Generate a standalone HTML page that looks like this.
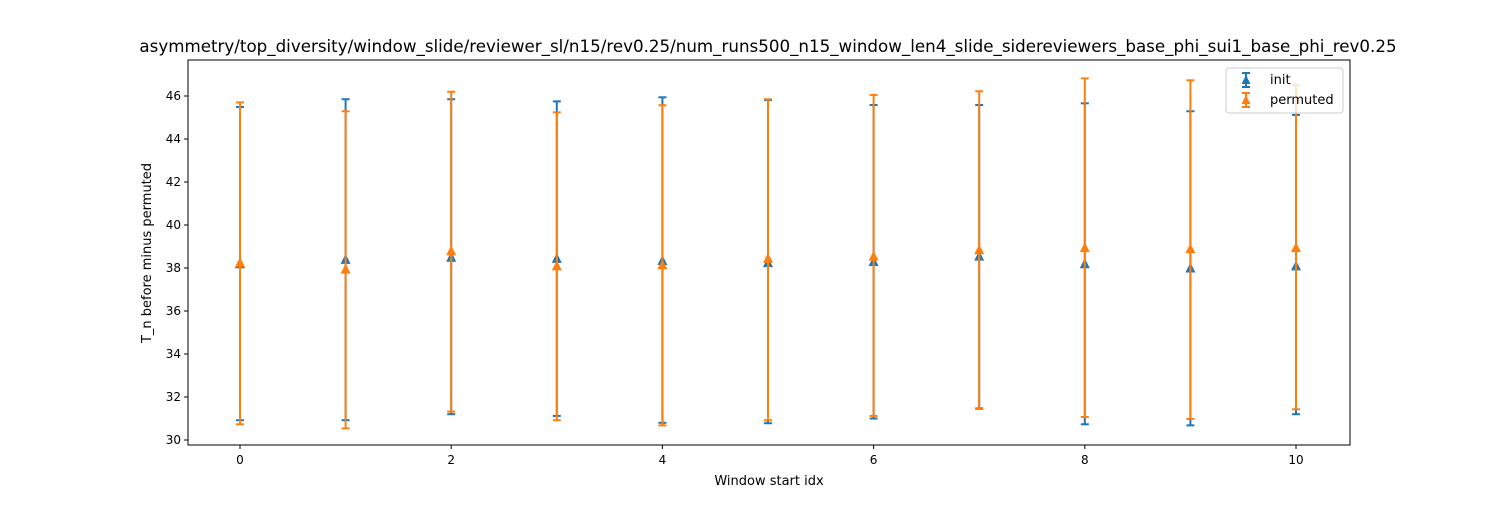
<!DOCTYPE html>
<html><head><meta charset="utf-8"><style>body{margin:0;background:#fff}svg text{font-family:"DejaVu Sans","Liberation Sans",sans-serif}</style></head>
<body>
<svg id="chart" width="1500" height="500" xmlns="http://www.w3.org/2000/svg"></svg>
<script>
const xs=[0,1,2,3,4,5,6,7,8,9,10];
const initMean=[38.2,38.4,38.5,38.45,38.35,38.25,38.3,38.55,38.2,38.0,38.1];
const initLow=[30.92,30.92,31.2,31.12,30.8,30.78,31.0,31.47,30.73,30.68,31.2];
const initHigh=[45.49,45.85,45.85,45.75,45.94,45.81,45.58,45.58,45.66,45.29,45.12];
const permMean=[38.25,37.95,38.8,38.1,38.15,38.45,38.55,38.85,38.95,38.9,38.95];
const permLow=[30.73,30.54,31.32,30.92,30.68,30.92,31.12,31.44,31.07,30.98,31.43];
const permHigh=[45.7,45.29,46.2,45.24,45.57,45.85,46.05,46.22,46.82,46.73,46.5];
const xTicks=[0,2,4,6,8,10];
const yTicks=[30,32,34,36,38,40,42,44,46];
const svg=document.getElementById('chart');
const NS='http://www.w3.org/2000/svg';
const L=188,R=1350,T=60,B=445;
const X=v=>240+v*105.6;
const Y=v=>440-(v-30)*21.5;
function mk(tag,attrs,parent){const e=document.createElementNS(NS,tag);for(const k in attrs)e.setAttribute(k,attrs[k]);(parent||svg).appendChild(e);return e;}
let t=mk('text',{x:768,y:52,'font-size':16.7,'text-anchor':'middle'});


t.textContent='asymmetry/top_diversity/window_slide/reviewer_sl/n15/rev0.25/num_runs500_n15_window_len4_slide_sidereviewers_base_phi_sui1_base_phi_rev0.25';
xTicks.forEach(v=>{const g=mk('g',{});


mk('line',{x1:X(v),x2:X(v),y1:B,y2:B+4,stroke:'#000'},g);
const tx=mk('text',{x:X(v),y:B+19,'font-size':12,'text-anchor':'middle'},g);tx.textContent=v;});
yTicks.forEach(v=>{const g=mk('g',{});


mk('line',{x1:L-4,x2:L,y1:Y(v),y2:Y(v),stroke:'#000'},g);
const tx=mk('text',{x:L-7,y:Y(v)+4,'font-size':12,'text-anchor':'end'},g);tx.textContent=v;});
t=mk('text',{x:769,y:485,'font-size':13,'text-anchor':'middle'});


t.textContent='Window start idx';
t=mk('text',{x:0,y:0,'font-size':13,'text-anchor':'middle',transform:'translate(151,253) rotate(-90)'});


t.textContent='T_n before minus permuted';
function series(mean,lo,hi,color,name){
 const g=mk('g',{});
 
 
 xs.forEach((x,i)=>{const cx=X(x);
  mk('line',{x1:cx,x2:cx,y1:Y(lo[i]),y2:Y(hi[i]),stroke:color,'stroke-width':2},g);
  mk('line',{x1:cx-4,x2:cx+4,y1:Y(lo[i]),y2:Y(lo[i]),stroke:color,'stroke-width':2},g);
  mk('line',{x1:cx-4,x2:cx+4,y1:Y(hi[i]),y2:Y(hi[i]),stroke:color,'stroke-width':2},g);
  const cy=Y(mean[i]);
  const p=mk('polygon',{points:`${cx},${cy-5.5} ${cx-5},${cy+4.5} ${cx+5},${cy+4.5}`,fill:color},g);
  
  
 });
}
series(initMean,initLow,initHigh,'#1f77b4','init');
series(permMean,permLow,permHigh,'#ff7f0e','permuted');
const fr=mk('rect',{x:L,y:T,width:R-L,height:B-T,fill:'none',stroke:'#000','stroke-width':1});


const lg=mk('g',{});


mk('rect',{x:1226,y:68,width:117,height:45,rx:3,fill:'#fff','fill-opacity':0.8,stroke:'#ccc'},lg);
[['init','#1f77b4',80],['permuted','#ff7f0e',100]].forEach(([n,c,y])=>{
 const e=mk('g',{},lg);
 
 
 mk('line',{x1:1246,x2:1246,y1:y-7,y2:y+7,stroke:c,'stroke-width':2},e);
 mk('line',{x1:1242,x2:1250,y1:y-7,y2:y-7,stroke:c,'stroke-width':2},e);
 mk('line',{x1:1242,x2:1250,y1:y+7,y2:y+7,stroke:c,'stroke-width':2},e);
 mk('polygon',{points:`1246,${y-5} 1241.5,${y+4} 1250.5,${y+4}`,fill:c},e);
 const tx=mk('text',{x:1270,y:y+4,'font-size':13},e);tx.textContent=n;
});
</script>
</body></html>
